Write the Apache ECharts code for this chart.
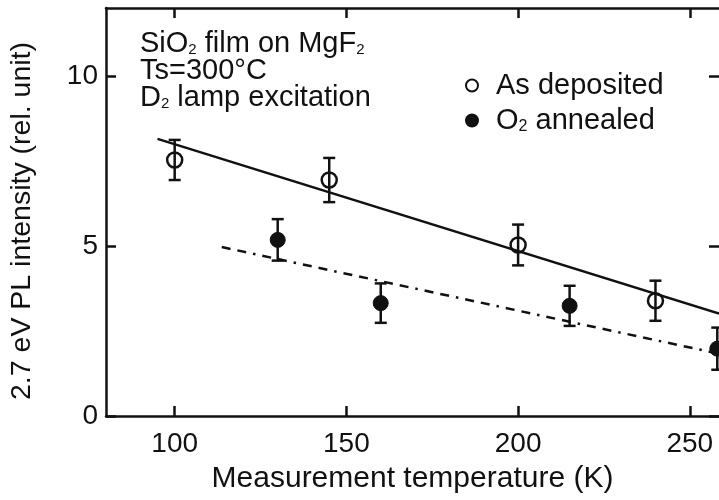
<!DOCTYPE html>
<html><head><meta charset="utf-8">
<script src="https://cdn.jsdelivr.net/npm/echarts@6/dist/echarts.min.js"></script>
<style>html,body{margin:0;padding:0;background:#fff}#c{width:719px;height:500px}</style>
</head><body><div id="c"></div>
<script>
// ---- data ----
const xTicks = [100, 150, 200, 250];
const yTicks = [0, 5, 10];
const asDepT = [100, 145, 200, 240];
const asDepI = [7.53, 6.94, 5.03, 3.39];
const asDepErr = [0.59, 0.65, 0.6, 0.59];
const o2T = [130, 160, 215, 258];
const o2I = [5.18, 3.32, 3.24, 1.98];
const o2Err = [0.61, 0.58, 0.59, 0.62];
const fitAsDepT = [95, 258.5];
const fitAsDepI = [8.15, 3.01];
const fitO2T = [113.7, 258.5];
const fitO2I = [4.97, 1.83];

const FF = '"Liberation Sans", Arial, Helvetica, sans-serif';
const INK = '#111';

function zip2(a, b) { return a.map((v, i) => [v, b[i]]); }
function zip3(a, b, c) { return a.map((v, i) => [v, b[i], c[i]]); }

function errBar(params, api) {
  const x = api.value(0), y = api.value(1), e = api.value(2);
  const t = api.coord([x, y + e]);
  const b = api.coord([x, y - e]);
  const hw = 6;
  const st = { stroke: INK, lineWidth: 2.5 };
  return {
    type: 'group',
    children: [
      { type: 'line', shape: { x1: t[0], y1: t[1], x2: b[0], y2: b[1] }, style: st },
      { type: 'line', shape: { x1: t[0] - hw, y1: t[1], x2: t[0] + hw, y2: t[1] }, style: st },
      { type: 'line', shape: { x1: b[0] - hw, y1: b[1], x2: b[0] + hw, y2: b[1] }, style: st }
    ]
  };
}

const subRich = { fontSize: 15, lineHeight: 1, verticalAlign: 'bottom', fontFamily: FF, color: INK };

const chart = echarts.init(document.getElementById('c'), null, { renderer: 'canvas' });
const axisLine = { show: true, onZero: false, lineStyle: { color: INK, width: 2.5 } };
const tickIn = (vals) => ({ show: true, inside: true, length: 10, customValues: vals, lineStyle: { color: INK, width: 2.5 } });

chart.setOption({
  animation: false,
  backgroundColor: '#fff',
  textStyle: { fontFamily: FF, color: INK },
  grid: { left: 106, right: 0, top: 8, bottom: 84, containLabel: false },
  xAxis: [
    {
      type: 'value', min: 80, max: 258.5, position: 'bottom',
      axisLine: axisLine, axisTick: tickIn(xTicks), splitLine: { show: false },
      axisLabel: { customValues: xTicks, fontSize: 28, color: INK, margin: 14, fontFamily: FF },
      name: 'Measurement temperature (K)', nameLocation: 'middle', nameGap: 48,
      nameTextStyle: { fontSize: 30, color: INK, fontFamily: FF }
    },
    {
      type: 'value', min: 80, max: 258.5, position: 'top',
      axisLine: axisLine, axisTick: tickIn(xTicks), splitLine: { show: false },
      axisLabel: { show: false }
    }
  ],
  yAxis: [
    {
      type: 'value', min: 0, max: 12, position: 'left',
      axisLine: axisLine, axisTick: tickIn(yTicks), splitLine: { show: false },
      axisLabel: { customValues: yTicks, fontSize: 28, color: INK, margin: 8, fontFamily: FF }
    },
    {
      type: 'value', min: 0, max: 12, position: 'right',
      axisLine: { show: false }, axisTick: tickIn(yTicks), splitLine: { show: false },
      axisLabel: { show: false }
    }
  ],
  legend: {
    data: ['As deposited', 'O2 annealed'],
    orient: 'vertical', left: 460, top: 66,
    itemWidth: 12, itemHeight: 12, itemGap: 6, icon: 'circle',
    formatter: n => n === 'O2 annealed' ? '{a|O}{s|2}{a| annealed}' : '{a|' + n + '}',
    textStyle: {
      color: INK, padding: [0, 0, 0, 13],
      rich: { a: { fontSize: 29, lineHeight: 29, fontFamily: FF, color: INK }, s: Object.assign({}, subRich, { fontSize: 16 }) }
    }
  },
  graphic: [
    {
      type: 'text', left: 140, top: 29, silent: true,
      style: {
        text: '{a|SiO}{s|2}{a| film on MgF}{s|2}\n{a|Ts=300°C}\n{a|D}{s|2}{a| lamp excitation}',
        fill: INK,
        rich: { a: { fontSize: 29, lineHeight: 27, fontFamily: FF, color: INK }, s: subRich }
      }
    },
    {
      type: 'text', x: 22, y: 221, rotation: Math.PI / 2, silent: true,
      style: { text: '2.7 eV PL intensity (rel. unit)', fontSize: 28.5, fontFamily: FF, fill: INK, align: 'center', verticalAlign: 'middle' }
    }
  ],
  series: [
    {
      type: 'line', data: zip2(fitAsDepT, fitAsDepI), symbol: 'none', silent: true,
      lineStyle: { color: INK, width: 2.5 }, z: 1
    },
    {
      type: 'line', data: zip2(fitO2T, fitO2I), symbol: 'none', silent: true,
      lineStyle: { color: INK, width: 2.5, type: [9, 7, 9, 7, 2.5, 7] }, z: 1
    },
    { type: 'custom', renderItem: errBar, data: zip3(asDepT, asDepI, asDepErr), z: 2, silent: true },
    { type: 'custom', renderItem: errBar, data: zip3(o2T, o2I, o2Err), z: 2, silent: true },
    {
      type: 'scatter', name: 'As deposited', data: zip2(asDepT, asDepI), symbol: 'circle', symbolSize: 15, z: 3,
      itemStyle: { color: 'rgba(0,0,0,0)', borderColor: INK, borderWidth: 2.5, opacity: 1 }
    },
    {
      type: 'scatter', name: 'O2 annealed', data: zip2(o2T, o2I), symbol: 'circle', symbolSize: 15, z: 3,
      itemStyle: { color: INK, borderColor: INK, borderWidth: 1, opacity: 1 }
    }
  ]
});
</script>
</body></html>
